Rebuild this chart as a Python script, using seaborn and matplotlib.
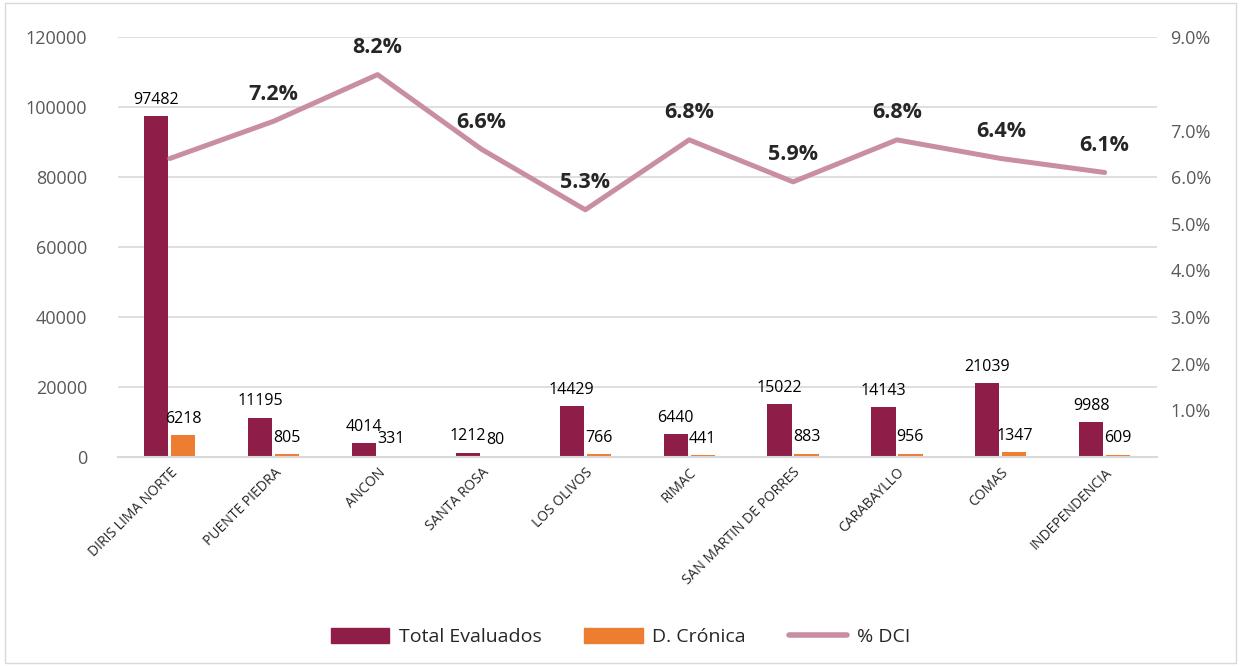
import numpy as np
import pandas as pd
import seaborn as sns
import matplotlib.pyplot as plt
from matplotlib.patches import Patch, Rectangle
from matplotlib.lines import Line2D
from matplotlib.ticker import FuncFormatter

# datos por distrito
regiones = ["DIRIS LIMA NORTE", "PUENTE PIEDRA", "ANCON", "SANTA ROSA", "LOS OLIVOS",
            "RIMAC", "SAN MARTIN DE PORRES", "CARABAYLLO", "COMAS", "INDEPENDENCIA"]
total_evaluados = [97482, 11195, 4014, 1212, 14429, 6440, 15022, 14143, 21039, 9988]
d_cronica = [6218, 805, 331, 80, 766, 441, 883, 956, 1347, 609]
pct_dci = [0.064, 0.072, 0.082, 0.066, 0.053, 0.068, 0.059, 0.068, 0.064, 0.061]
pct_etiquetas = ["", "7.2%", "8.2%", "6.6%", "5.3%", "6.8%", "5.9%", "6.8%", "6.4%", "6.1%"]

series = ["Total Evaluados", "D. Crónica"]
colores = ["#8E1E48", "#ED7D31"]
color_linea = "#C98FA0"

df = pd.DataFrame({
    "region": regiones * 2,
    "serie": [series[0]] * 10 + [series[1]] * 10,
    "valor": total_evaluados + d_cronica,
})

sns.set_style("white")
plt.rcParams['font.family'] = ['Open Sans', 'DejaVu Sans']

fig = plt.figure(figsize=(12.41, 6.66), dpi=100)
ax = fig.add_axes([0.095, 0.314, 0.837, 0.630])

sns.barplot(data=df, x="region", y="valor", hue="serie", hue_order=series,
            palette=colores, saturation=1, linewidth=0, width=0.52, gap=0.1,
            ax=ax, legend=False)

for cont in ax.containers:
    ax.bar_label(cont, padding=6, fontsize=11.5, color="black")

ax.set_ylim(0, 120000)
ax.set_yticks(range(0, 120001, 20000))
ax.set_xlim(-0.5, 9.5)
ax.grid(axis="y", color="#D9D9D9", linewidth=1.2)
ax.set_axisbelow(True)
ax.set_xlabel("")
ax.set_ylabel("")
for s in ["top", "right", "left"]:
    ax.spines[s].set_visible(False)
ax.spines["bottom"].set_color("#D9D9D9")
ax.spines["bottom"].set_linewidth(1.5)
ax.tick_params(axis="y", labelsize=13, labelcolor="#595959", length=0, pad=22)
ax.tick_params(axis="x", length=0, labelsize=10, pad=6)
plt.setp(ax.get_xticklabels(), rotation=45, ha="right", rotation_mode="anchor")

# eje secundario con el porcentaje
ax2 = ax.twinx()
x_pos = np.arange(len(regiones))
sns.lineplot(x=x_pos, y=pct_dci, ax=ax2, color=color_linea, linewidth=3.6)
ax2.set_ylim(0, 0.09)
ax2.set_yticks([0.01, 0.02, 0.03, 0.04, 0.05, 0.06, 0.07, 0.09])
ax2.yaxis.set_major_formatter(FuncFormatter(lambda v, p: f"{v*100:.1f}%"))
ax2.tick_params(axis="y", labelsize=13, labelcolor="#595959", length=0, pad=10)
for s in ["top", "right", "left", "bottom"]:
    ax2.spines[s].set_visible(False)
ax2.set_xlim(-0.5, 9.5)

for xi, yi, txt in zip(x_pos, pct_dci, pct_etiquetas):
    if txt:
        ax2.annotate(txt, (xi, yi), xytext=(0, 12), textcoords="offset points",
                     ha="center", va="bottom", fontsize=15.5, fontweight="bold")

handles = [Patch(color=colores[0]), Patch(color=colores[1]),
           Line2D([0], [0], color=color_linea, linewidth=4)]
fig.legend(handles, series + ["% DCI"], loc="center", bbox_to_anchor=(0.5, 0.043),
           ncol=3, frameon=False, fontsize=14, handlelength=3.0, columnspacing=2.2,
           handleheight=0.8, handletextpad=0.5)

fig.patches.append(Rectangle((0.004, 0.004), 0.992, 0.992, transform=fig.transFigure,
                             fill=False, edgecolor="#D9D9D9", linewidth=1))

fig.savefig("out.png", dpi=100)
